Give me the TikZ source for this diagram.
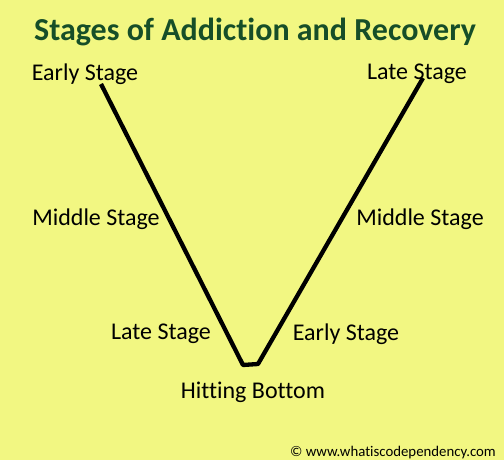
\documentclass[tikz,border=0pt]{standalone}
\usepackage{fontspec}
\setmainfont[RawFeature={-liga;-dlig}]{Carlito}
\usepackage{tikz}

\definecolor{bgyellow}{RGB}{242,247,130}
\definecolor{titlegreen}{RGB}{22,78,40}

\begin{document}
\begin{tikzpicture}[x=1pt, y=-1pt]
  \fill[bgyellow] (0,0) rectangle (504,460);
  \useasboundingbox (0,0) rectangle (504,460);
  \tikzset{stage/.style={font=\fontsize{24}{28}\selectfont, inner sep=0pt}}

  \node[font=\bfseries\fontsize{32}{36}\selectfont, text=titlegreen] (T) at (255,32) {Stages of Addiction and Recovery};

  \coordinate (P1) at (101,84);
  \coordinate (P2) at (243,365);
  \coordinate (P3) at (258,364);
  \coordinate (P4) at (423,78);
  \draw[line width=4.3pt, line join=round] (P1) -- (P2) -- (P3) -- (P4);

  \node[stage] (A) at (85,74) {Early Stage};
  \node[stage] (B) at (417,74) {Late Stage};

  \node[stage] (C) at (96,219) {Middle Stage};
  \node[stage] (D) at (420,219) {Middle Stage};

  \node[stage] (E) at (161,334) {Late Stage};
  \node[stage] (F) at (346,334) {Early Stage};

  \node[stage] (G) at (253,392) {Hitting Bottom};
  \node[font=\fontsize{14.8}{17}\selectfont, inner sep=0pt, anchor=east] (H) at (496,453) {© www.whatiscodependency.com};
\end{tikzpicture}
\end{document}
